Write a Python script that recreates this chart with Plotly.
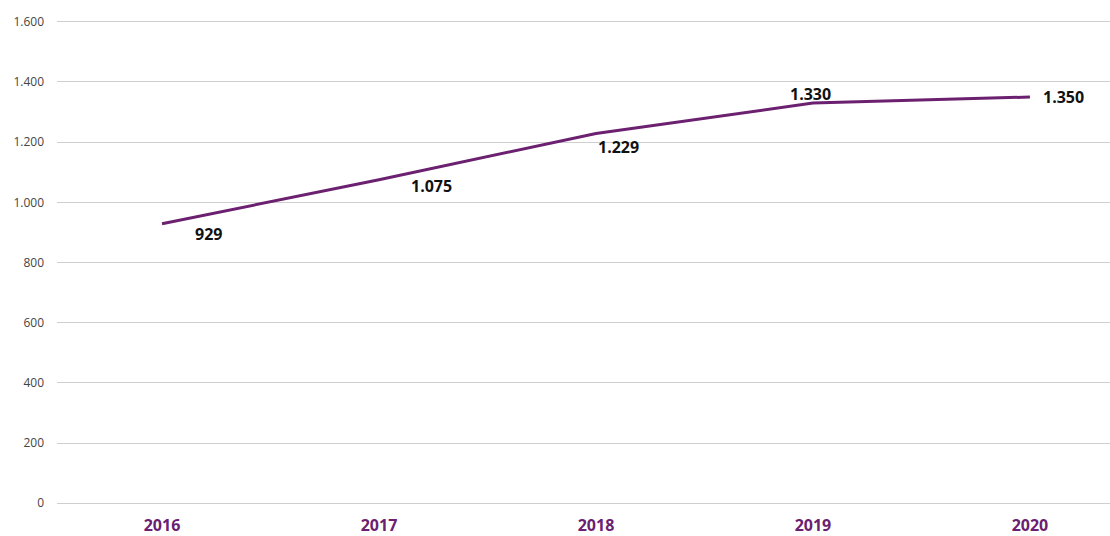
import plotly.graph_objects as go

years = ["2016", "2017", "2018", "2019", "2020"]
values = [929, 1075, 1229, 1330, 1350]
y_ticks = [0, 200, 400, 600, 800, 1000, 1200, 1400, 1600]

# label offsets (pixels) relative to each data point
label_dx = [46, 52, 23, -2, 34]
label_dy = [-10, -6, -14, 9, 0]

purple = "#6b2070"
xs = list(range(len(years)))

fig = go.Figure()
fig.add_trace(go.Scatter(
    x=xs, y=values, mode="lines",
    line=dict(color=purple, width=3),
    hoverinfo="skip", showlegend=False,
))

def fmt(v):
    return f"{v:,}".replace(",", ".")

for i, v in enumerate(values):
    fig.add_annotation(
        x=xs[i], y=v, text=f"<b>{fmt(v)}</b>", showarrow=False,
        xshift=label_dx[i], yshift=label_dy[i],
        font=dict(family="Open Sans, sans-serif", size=16, color="#111111"),
    )

fig.update_layout(
    width=1110, height=536,
    margin=dict(l=57, r=0, t=20, b=31),
    paper_bgcolor="white", plot_bgcolor="white",
    separators=",.",
    xaxis=dict(
        range=[-0.484, 4.369], tickmode="array", tickvals=xs, ticktext=years,
        showgrid=False, zeroline=False, showline=False, ticks="",
        tickfont=dict(family="Open Sans, sans-serif", size=16, color=purple, weight="bold"),
        ticklabelstandoff=9, automargin=False,
    ),
    yaxis=dict(
        range=[-6, 1606], tickmode="array", tickvals=y_ticks,
        ticktext=[fmt(t) for t in y_ticks],
        showgrid=True, gridcolor="#cfcfcf", gridwidth=1,
        zeroline=False, showline=False, ticks="",
        tickfont=dict(family="Open Sans, sans-serif", size=12, color="#444444"),
        ticklabelstandoff=12, automargin=False,
    ),
)

fig.write_html("out.html")
